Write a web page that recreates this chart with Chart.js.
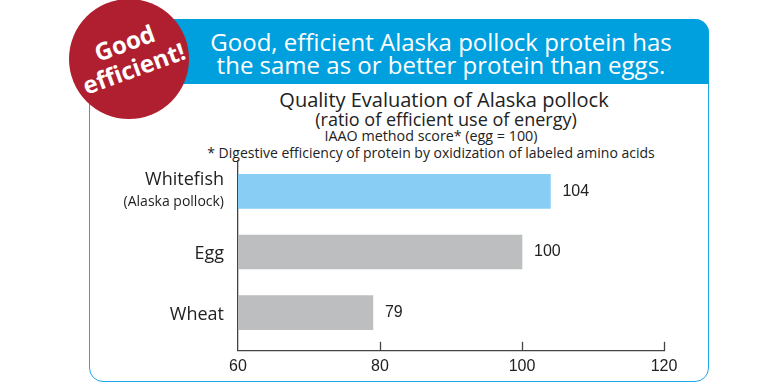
<!DOCTYPE html>
<html><head><meta charset="utf-8">
<script src="https://cdn.jsdelivr.net/npm/chart.js@4"></script>
<style>
html,body{margin:0;padding:0;background:#fff;}
#wrap{position:relative;width:780px;height:383px;overflow:hidden;font-family:"Open Sans",sans-serif;}
#card{position:absolute;left:88.5px;top:19px;width:620px;height:363px;border:1.5px solid #1BA6E6;border-radius:14px;box-sizing:border-box;background:#fff;}
#header{position:absolute;left:88.5px;top:19px;width:620px;height:65px;background:#00A0DF;border-radius:14px 14px 0 0;}
.c{position:absolute;width:0;white-space:nowrap;}
.c span{position:absolute;left:0;transform:translateX(-50%);}
.htxt{color:#fff;font-size:24px;line-height:24px;}
#badge{position:absolute;left:69px;top:-1px;width:120px;height:120px;border-radius:50%;background:#B01F2F;}
#badgeTxt{position:absolute;left:129px;top:55px;transform:translate(-50%,-50%) rotate(-20deg);color:#fff;font-weight:bold;font-size:24px;line-height:27px;text-align:center;white-space:nowrap;}
.ttl{color:#222;}
canvas{position:absolute;left:0;top:0;}
</style></head>
<body>
<div id="wrap">
  <div id="card"></div>
  <div id="header"></div>
  <div class="c htxt" style="left:441px;top:30px;"><span>Good, efficient Alaska pollock protein has</span></div>
  <div class="c htxt" style="left:441px;top:53px;"><span>the same as or better protein than eggs.</span></div>
  <div id="badge"></div>
  <div id="badgeTxt">Good<br>efficient!</div>
  <div class="c ttl" style="left:444px;top:87px;font-size:20px;line-height:26px;"><span>Quality Evaluation of Alaska pollock</span></div>
  <div class="c ttl" style="left:446px;top:108px;font-size:18px;line-height:22px;"><span>(ratio of efficient use of energy)</span></div>
  <div class="c ttl" style="left:431px;top:127px;font-size:14.3px;line-height:18px;"><span>IAAO method score* (egg = 100)</span></div>
  <div class="c ttl" style="left:431px;top:144px;font-size:14px;line-height:18px;"><span>* Digestive efficiency of protein by oxidization of labeled amino acids</span></div>
  <canvas id="c" width="780" height="383"></canvas>
</div>
<script>
const categories = ['Whitefish', 'Egg', 'Wheat'];
const subLabels = ['(Alaska pollock)', '', ''];
const values = [104, 100, 79];
const barColors = ['#88CEF4', '#BDBEC0', '#BDBEC0'];
const xTicks = [60, 80, 100, 120];

const labelPlugin = {
  id: 'labels',
  afterDatasetsDraw(chart) {
    const ctx = chart.ctx;
    const meta = chart.getDatasetMeta(0);
    const xS = chart.scales.x;
    const area = chart.chartArea;
    ctx.save();
    ctx.textBaseline = 'middle';
    meta.data.forEach((bar, i) => {
      ctx.fillStyle = '#222';
      ctx.font = '16px "Liberation Sans"';
      ctx.textAlign = 'left';
      ctx.fillText(String(values[i]), bar.x + 12, bar.y);
      ctx.textAlign = 'right';
      ctx.font = '18px "Open Sans"';
      const lx = area.left - 14;
      if (subLabels[i]) {
        ctx.fillText(categories[i], lx, bar.y - 11);
        ctx.font = '14px "Open Sans"';
        ctx.fillText(subLabels[i], lx, bar.y + 11);
      } else {
        ctx.fillText(categories[i], lx, bar.y + 2);
      }
    });
    ctx.strokeStyle = '#444';
    ctx.lineWidth = 1.3;
    xTicks.forEach(v => {
      if (v === xS.min) return;
      const px = Math.round(xS.getPixelForValue(v)) + 0.5;
      ctx.beginPath();
      ctx.moveTo(px, xS.top);
      ctx.lineTo(px, xS.top - 9);
      ctx.stroke();
    });
    ctx.restore();
  }
};

new Chart(document.getElementById('c'), {
  type: 'bar',
  data: {
    datasets: [{
      data: values.map((v, i) => ({ x: v, y: i })),
      backgroundColor: barColors,
      borderWidth: 0,
      barThickness: 34
    }]
  },
  options: {
    indexAxis: 'y',
    responsive: false,
    animation: false,
    devicePixelRatio: 1,
    layout: { padding: { left: 238, right: 116, top: 161, bottom: 1 } },
    plugins: { legend: { display: false }, tooltip: { enabled: false } },
    scales: {
      x: {
        type: 'linear', min: 60, max: 120,
        afterBuildTicks: s => { s.ticks = xTicks.map(v => ({ value: v })); },
        ticks: { font: { family: 'Liberation Sans', size: 16 }, color: '#222', padding: 6 },
        grid: { display: false, drawTicks: false },
        border: { display: true, color: '#444', width: 1.3 }
      },
      y: {
        type: 'linear', reverse: true, min: -0.5, max: 2.63, offset: false,
        ticks: { display: false },
        grid: { display: false, drawTicks: false, offset: false },
        border: { display: true, color: '#444', width: 1.3 }
      }
    }
  },
  plugins: [labelPlugin]
});
</script>
</body></html>
